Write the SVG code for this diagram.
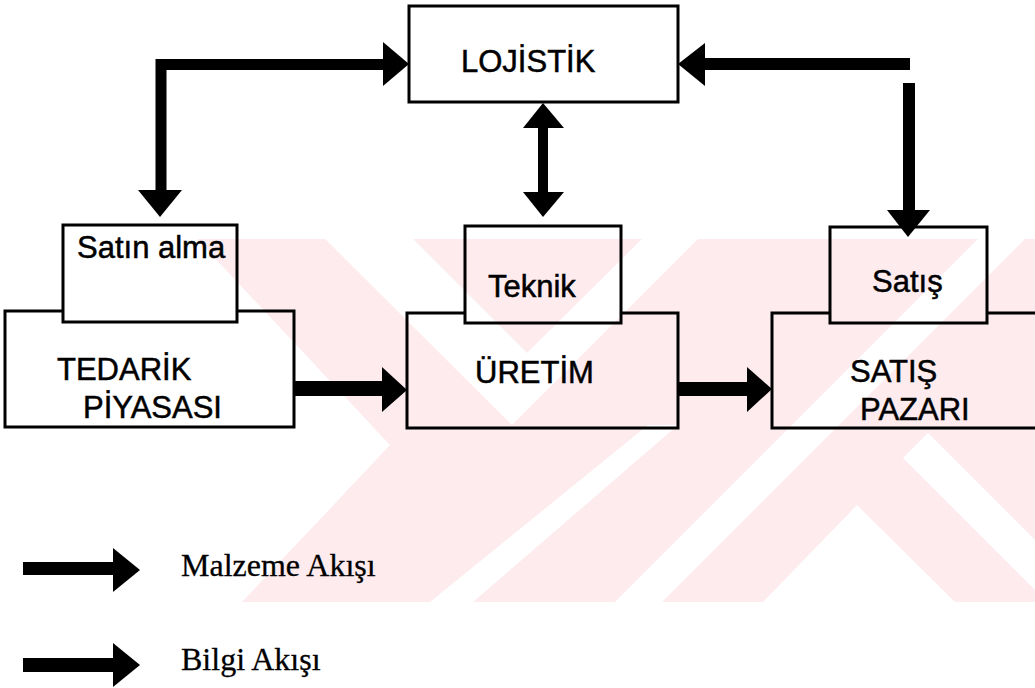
<svg xmlns="http://www.w3.org/2000/svg" width="1035" height="688" viewBox="0 0 1035 688">
<style>
.wm{fill:#fdebee}
.wh{fill:#ffffff}
.box{fill:none;stroke:#000;stroke-width:3}
.shaft{fill:none;stroke:#000;stroke-linejoin:miter}
.head{fill:#000}
.lbl{font-family:"Liberation Sans",Arial,sans-serif;font-size:31px;fill:#000;stroke:#000;stroke-width:0.5}
.leg{font-family:"Liberation Serif","Times New Roman",serif;font-size:32px;fill:#000;stroke:#000;stroke-width:0.3}
</style>
<rect width="1035" height="688" fill="#fff"/>
<g id="watermark">
<rect class="wm" x="0" y="239" width="1035" height="363"/>
<polygon class="wh" points="0,239 197,239 390,445 242,602 0,602"/>
<polygon class="wh" points="325,239 413,239 527,353 642,239 698,239 512,425"/>
<polygon class="wh" points="978,239 1025,239 662,602 615,602"/>
<polygon class="wh" points="648,425 678,425 473,602 430,602"/>
<polygon class="wh" points="857,505 955,602 763,602"/>
<polygon class="wh" points="928,433 1035,540 1035,590 903,458"/>
</g>
<g id="connectors">
<path class="shaft" d="M161 190 V64.5 H383" stroke-width="11"/>
<polygon class="head" points="383,42 409,64 383,86"/>
<polygon class="head" points="138,190 182,190 160,217"/>
<path class="shaft" d="M705 64 H910" stroke-width="12"/>
<polygon class="head" points="705,43 678,64 705,86"/>
<path class="shaft" d="M909 83 V210" stroke-width="12"/>
<polygon class="head" points="887,210 930,210 908,237"/>
<path class="shaft" d="M543 127 V193" stroke-width="10"/>
<polygon class="head" points="523,128 543,103 564,128"/>
<polygon class="head" points="523,192 564,192 543,217"/>
<path class="shaft" d="M294 388.5 H383" stroke-width="15"/>
<polygon class="head" points="382,367 407,390 382,412"/>
<path class="shaft" d="M678 389 H748" stroke-width="14"/>
<polygon class="head" points="747,367 772,389 747,412"/>
</g>
<g id="lojistik">
<rect class="box" x="409" y="6" width="269" height="96"/>
<text class="lbl" x="461" y="72">LOJİSTİK</text>
</g>
<g id="satin-alma">
<rect class="box" x="63" y="225" width="174" height="97"/>
<text class="lbl" x="77" y="258">Satın alma</text>
</g>
<g id="tedarik-piyasasi">
<path class="box" d="M63 311 H5 V427 H294 V311 H237"/>
<text class="lbl" x="57" y="380">TEDARİK</text>
<text class="lbl" x="83" y="418">PİYASASI</text>
</g>
<g id="teknik">
<rect class="box" x="465" y="226" width="156" height="97"/>
<text class="lbl" x="488" y="297">Teknik</text>
</g>
<g id="uretim">
<path class="box" d="M465 313 H407 V428 H678 V313 H621"/>
<text class="lbl" x="475" y="383">ÜRETİM</text>
</g>
<g id="satis">
<rect class="box" x="830" y="227" width="157" height="96"/>
<text class="lbl" x="872" y="292">Satış</text>
</g>
<g id="satis-pazari">
<path class="box" d="M830 313 H772 V428 H1040 M987 313 H1040"/>
<text class="lbl" x="850" y="382">SATIŞ</text>
<text class="lbl" x="860" y="420">PAZARI</text>
</g>
<g id="legend">
<path class="shaft" d="M23 568.5 H114" stroke-width="13"/>
<polygon class="head" points="113,548 140,570 113,592"/>
<text class="leg" x="181" y="576">Malzeme Akışı</text>
<path class="shaft" d="M23 665 H114" stroke-width="14"/>
<polygon class="head" points="113,643 140,665 113,687"/>
<text class="leg" x="181" y="670">Bilgi Akışı</text>
</g>
</svg>
